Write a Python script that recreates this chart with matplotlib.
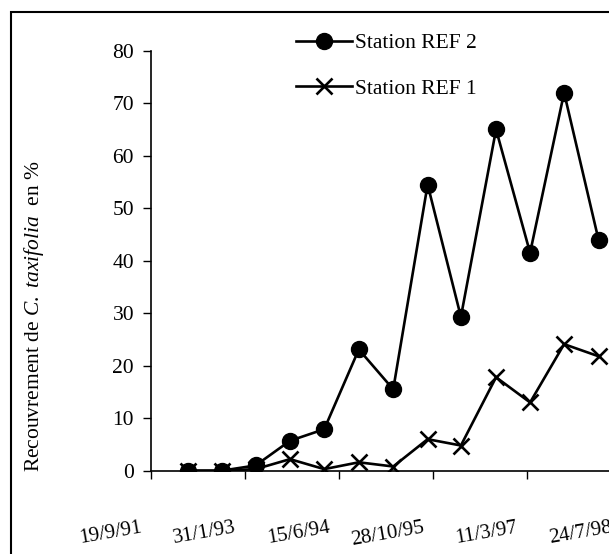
import numpy as np
import matplotlib
matplotlib.use("Agg")
import matplotlib.pyplot as plt
import matplotlib.transforms as mtransforms
from matplotlib.patches import Rectangle

plt.rcParams['font.family'] = ['Liberation Serif', 'DejaVu Serif']
plt.rcParams['mathtext.fontset'] = 'custom'
plt.rcParams['mathtext.rm'] = 'Liberation Serif'
plt.rcParams['mathtext.it'] = 'Liberation Serif:italic'

# sampling dates (about every six months)
dates = np.array(['1992-04-03', '1992-09-30', '1993-03-30', '1993-09-29',
                  '1994-03-30', '1994-09-30', '1995-04-01', '1995-10-01',
                  '1996-03-26', '1996-09-29', '1997-03-29', '1997-09-26',
                  '1998-03-28'], dtype='datetime64[D]')
ref2 = [0, 0, 1.0, 5.7, 7.9, 23.1, 15.5, 54.5, 29.3, 65.0, 41.5, 72.0, 44.0]
ref1 = [0, 0, 0.3, 2.2, 0.3, 1.6, 0.8, 6.0, 4.8, 17.8, 13.0, 24.1, 21.8]

tick_dates = np.array(['1991-09-19', '1993-01-31', '1994-06-15',
                       '1995-10-28', '1997-03-11', '1998-07-24'], dtype='datetime64[D]')
tick_labels = ['19/9/91', '31/1/93', '15/6/94', '28/10/95', '11/3/97', '24/7/98']

W, H = 609, 554
fig = plt.figure(figsize=(W / 100, H / 100), dpi=100)
# plot area runs past the right edge, like the cropped original
ax = fig.add_axes([150.7 / W, 1 - 470.7 / H, 470 / W, 420 / H])

ax.plot(dates, ref2, color='black', lw=1.9, marker='o', ms=11.5, label='Station REF 2')
ax.plot(dates, ref1, color='black', lw=1.9, marker='x', ms=11, mew=1.9, label='Station REF 1')

ax.set_xlim(tick_dates[0], tick_dates[-1])
ax.set_ylim(0, 80)
ax.set_yticks(range(0, 81, 10))
ax.set_xticks(tick_dates)
ax.set_xticklabels([])
ax.tick_params(axis='y', direction='out', length=6, width=1, labelsize=15.5, pad=6)
ax.tick_params(axis='x', direction='out', length=6, width=1)
for s in ['top', 'right']:
    ax.spines[s].set_visible(False)
for s in ['left', 'bottom']:
    ax.spines[s].set_linewidth(1.2)

# rotated date labels, slightly left of their ticks
off = mtransforms.offset_copy(ax.transData, fig=fig, x=-9, y=-57, units='dots')
for d, lab in zip(tick_dates, tick_labels):
    ax.text(d, 0, lab, transform=off, rotation=10, rotation_mode='anchor',
            ha='right', va='center', fontsize=15, clip_on=False)

fig.text(34 / W, 1 - 316 / H, r'Recouvrement de $\mathit{C.\ taxifolia}$  en %',
         rotation=90, ha='center', va='center', fontsize=15.5)

ax.legend(loc='upper left', bbox_to_anchor=(296 / W, 1 - 33 / H),
          bbox_transform=fig.transFigure, frameon=False, fontsize=15.5,
          borderpad=0, borderaxespad=0, handlelength=2.6, handletextpad=0.15,
          labelspacing=1.2)

# outer frame (cut at right and bottom)
fig.patches.append(Rectangle((11 / W, -0.1), 2, 1.1 - 12 / H, transform=fig.transFigure,
                             fill=False, edgecolor='black', lw=1.5))

fig.savefig('out.png', dpi=100)
